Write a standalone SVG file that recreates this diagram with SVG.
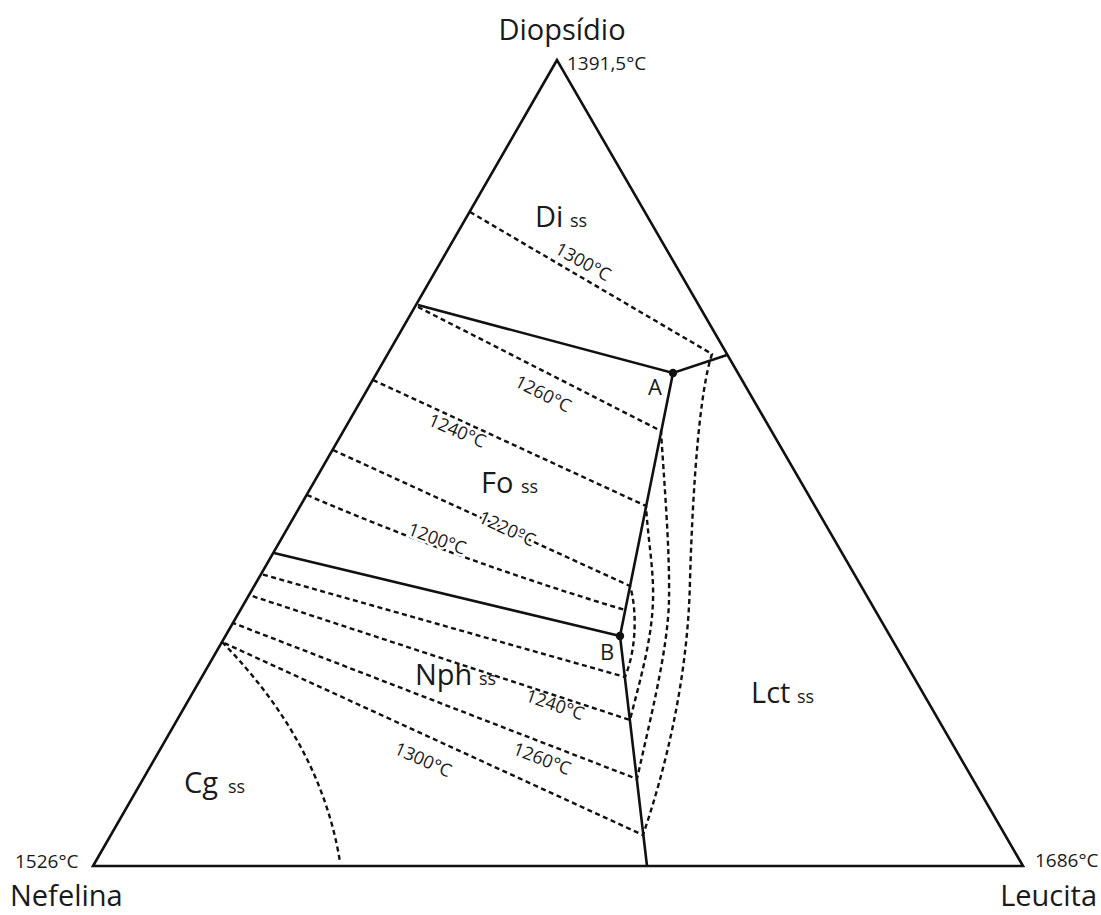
<svg xmlns="http://www.w3.org/2000/svg" width="1101" height="915" viewBox="0 0 1101 915">
<style>
.solid{fill:none;stroke:#111;stroke-width:2.6;stroke-linejoin:miter}
.iso{fill:none;stroke:#111;stroke-width:2.4;stroke-dasharray:5 3.5}
.t{font-family:"Open Sans","Noto Sans",sans-serif;fill:#1a1a1a}
.big{font-size:29px}
.ss{font-size:18px}
.temp{font-size:18px}
.vt{font-size:19px}
.pt{fill:#111}
.halo{stroke:#fff;stroke-width:5;paint-order:stroke;stroke-linejoin:round}
</style>
<rect width="1101" height="915" fill="#fff"/>
<g id="triangle">
<polygon class="solid" points="557,60 93,866 1023,866"/>
</g>
<g id="boundaries">
<path class="solid" d="M418,305 L673,373 L727,355 M673,373 L620,636 L647,866 M274,553 L620,636"/>
</g>
<g id="isotherms">
<path class="iso" d="M470,212 L712,354 C700,390 693,480 690,580 C688,680 665,770 643,835 L222,642"/>
<path class="iso" d="M418,307 L661,431 C664,480 670,550 669,600 C668,650 650,720 637,779 L233,623"/>
<path class="iso" d="M373,380 L646,506 C648,540 654,570 653,600 C652,640 640,680 630,720 L249,595"/>
<path class="iso" d="M333,450 L630,586 C636,605 638,645 625,677 L261,574"/>
<path class="iso" d="M307,495 Q458,560 625,610"/>
<path class="iso" d="M222,642 Q321,743 340,862"/>
</g>
<g id="points">
<circle class="pt" cx="673" cy="373" r="4.2"/>
<circle class="pt" cx="620" cy="636" r="4.2"/>
<text class="t" x="648" y="395" font-size="22">A</text>
<text class="t" x="600" y="660" font-size="22">B</text>
</g>
<g id="field-Di"><text class="t big" x="535" y="227">Di</text><text class="t ss" x="570" y="227">ss</text></g>
<g id="field-Fo"><text class="t big" x="481" y="493">Fo</text><text class="t ss" x="521" y="493">ss</text></g>
<g id="field-Nph"><text class="t big" x="415" y="685">Nph</text><text class="t ss" x="479" y="685">ss</text></g>
<g id="field-Lct"><text class="t big" x="751" y="703">Lct</text><text class="t ss" x="797" y="703">ss</text></g>
<g id="field-Cg"><text class="t big" x="184" y="793">Cg</text><text class="t ss" x="228" y="793">ss</text></g>
<g id="temp-labels" class="t temp" text-anchor="middle">
<text transform="translate(583,262) rotate(29)" y="6">1300°C</text>
<text transform="translate(543,394) rotate(27)" y="6">1260°C</text>
<text transform="translate(457,431) rotate(23)" y="6">1240°C</text>
<text class="halo" transform="translate(507,529) rotate(25)" y="6">1220°C</text>
<text class="halo" transform="translate(437,539) rotate(20)" y="6">1200°C</text>
<text transform="translate(555,705) rotate(19)" y="6">1240°C</text>
<text transform="translate(542,759) rotate(21)" y="6">1260°C</text>
<text transform="translate(423,760) rotate(24)" y="6">1300°C</text>
</g>
<g id="vertices">
<text class="t big" x="562" y="40" text-anchor="middle">Diopsídio</text>
<text class="t vt" x="567" y="70">1391,5°C</text>
<text class="t vt" x="15" y="868">1526°C</text>
<text class="t vt" x="1035" y="867">1686°C</text>
<text class="t big" x="10" y="906">Nefelina</text>
<text class="t big" x="1097" y="906" text-anchor="end">Leucita</text>
</g>
</svg>
